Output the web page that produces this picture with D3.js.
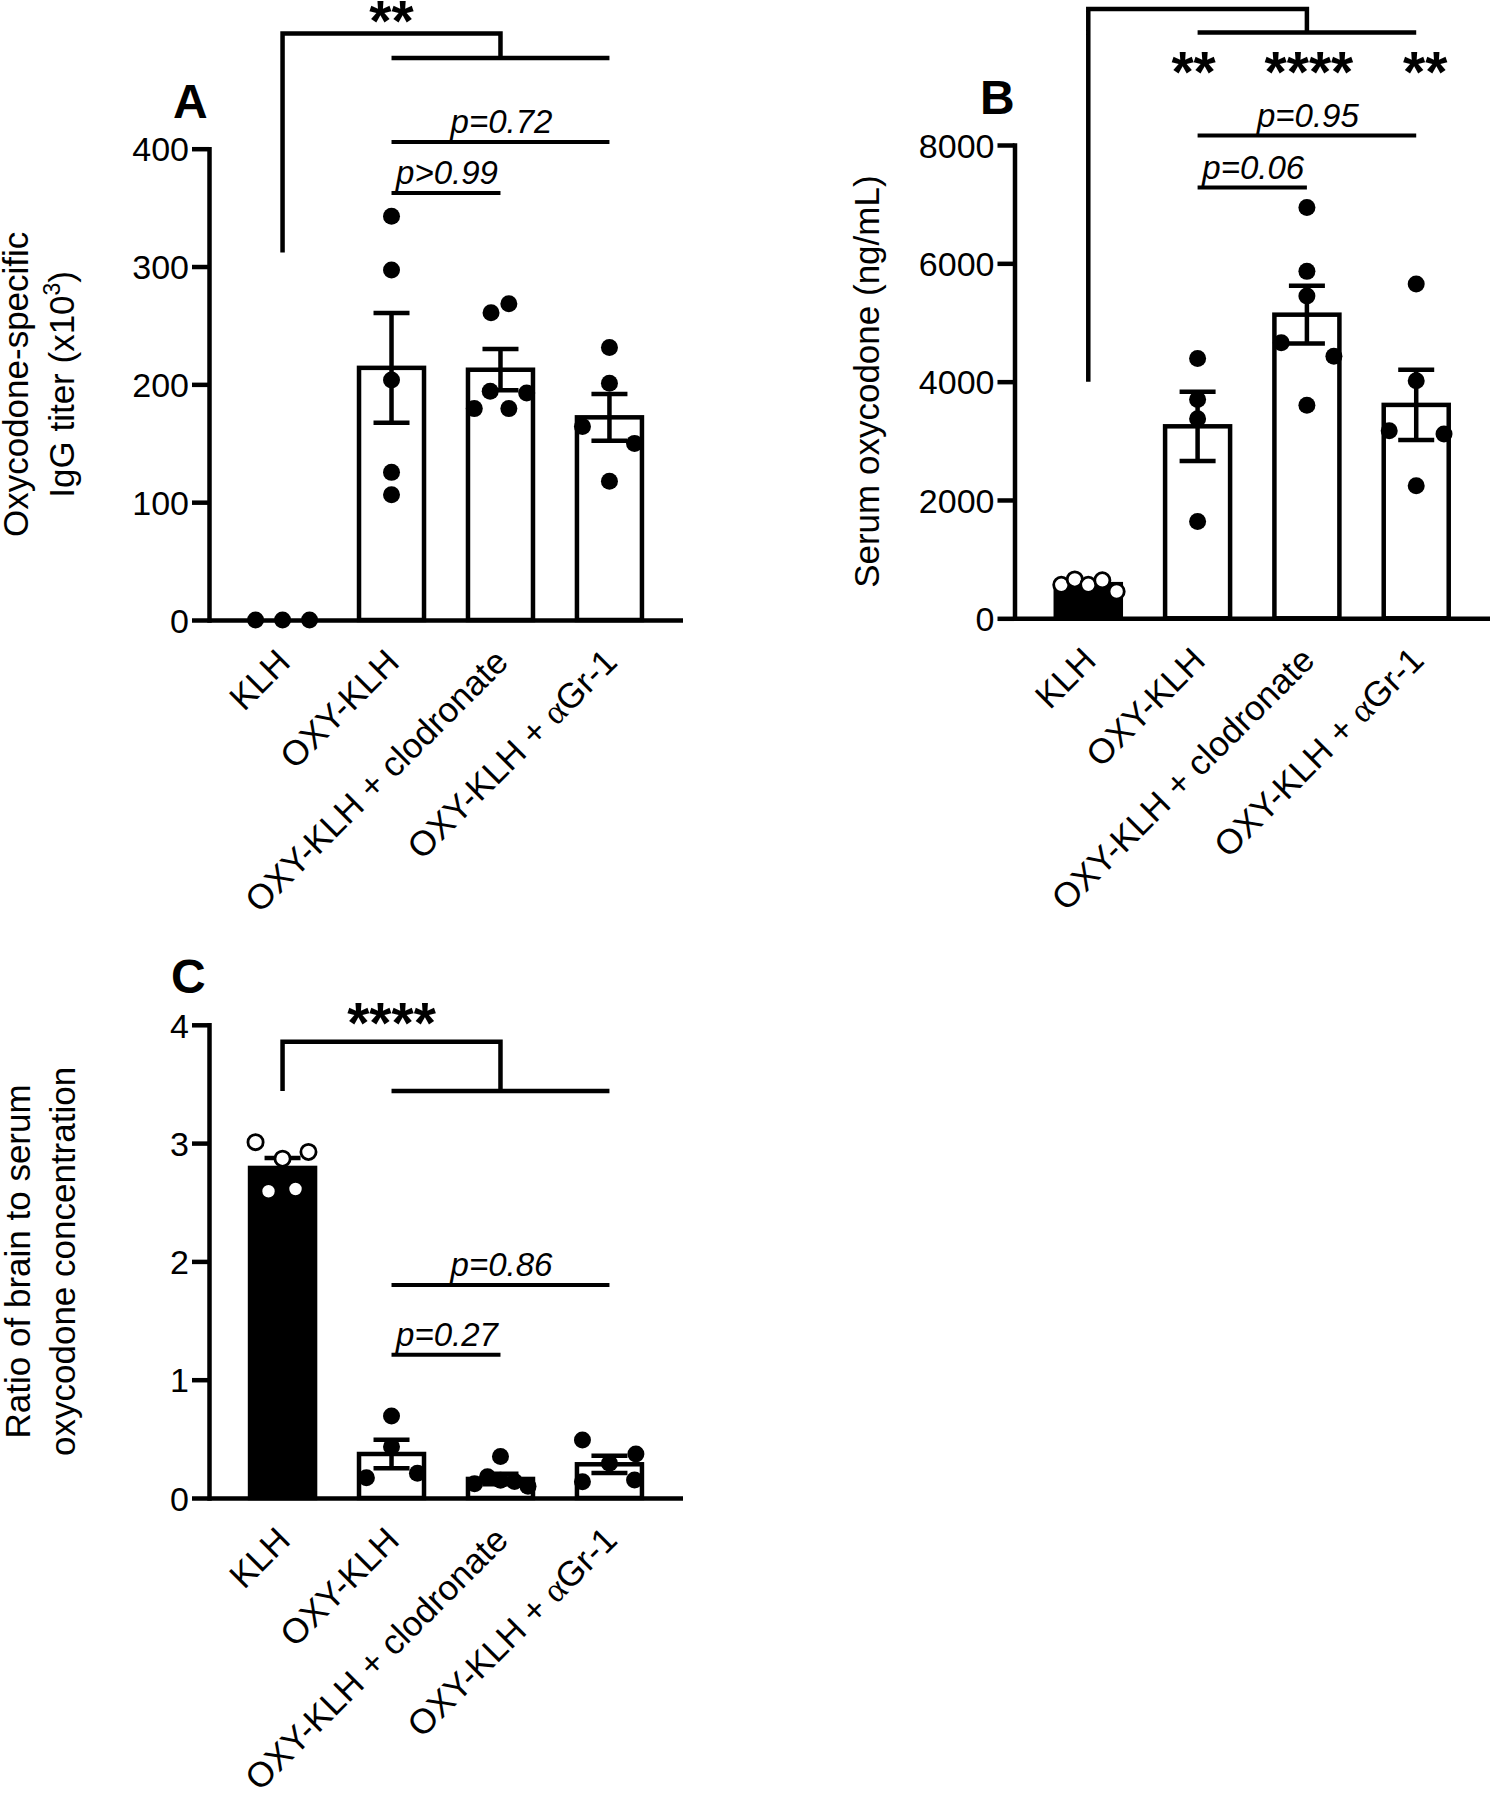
<!DOCTYPE html>
<html><head><meta charset="utf-8">
<script src="https://cdn.jsdelivr.net/npm/d3@7"></script>
<style>
body{margin:0;background:#fff}
svg{display:block;background:#fff}
text{font-family:"Liberation Sans", Arial, Helvetica, sans-serif; fill:#000}
</style>
</head><body>
<svg id="chart" width="1490" height="1800"></svg>
<script>
// ---------------- DATA ----------------
const categories = ["KLH", "OXY-KLH", "OXY-KLH + clodronate", "OXY-KLH + \u03B1Gr-1"];

// Panel A: oxycodone-specific IgG titer (x10^3)
const meansA = [0, 214, 212.4, 172];
const semsA  = [0, 46.5, 17.5, 19.8];
const pointsA = [
  [0, 0, 0],
  [342.6, 297, 203.6, 125.3, 106.3],
  [260.8, 268.4, 194.2, 179.4, 179.4, 192.7],
  [231.3, 201, 164.3, 149.9, 117.7]
];
const jitterA = [
  [-1, 0, 1],
  [0, 0, 0, 0, 0],
  [-0.35, 0.31, -0.38, -0.97, 0.31, 0.97],
  [0, 0, -1, 0.93, 0]
];
const ticksA = [0, 100, 200, 300, 400];

// Panel B: serum oxycodone (ng/mL)
const meansB = [577, 3245, 5132, 3607];
const semsB  = [45, 585, 487, 593];
const pointsB = [
  [566, 657, 566, 642, 453],
  [4392, 3698, 3374, 1638],
  [6942, 5864, 5448, 4657, 4430, 3600],
  [5652, 4015, 3170, 3117, 2241]
];
const jitterB = [
  [-1, -0.5, 0, 0.52, 1.05],
  [0, 0, 0, 0],
  [0, 0, 0, -0.95, 1, 0],
  [0, 0, -1, 1.03, 0]
];
const ticksB = [0, 2000, 4000, 6000, 8000];

// Panel C: ratio of brain to serum oxycodone concentration
const meansC = [2.79, 0.372, 0.161, 0.285];
const semsC  = [0.085, 0.12, 0.045, 0.073];
const pointsC = [
  [3.008, 2.868, 2.925, 2.593, 2.612],
  [0.693, 0.434, 0.172, 0.209],
  [0.35, 0.12, 0.18, 0.15, 0.14, 0.10],
  [0.49, 0.372, 0.293, 0.138, 0.152]
];
const jitterC = [
  [-1, 0, 0.96, -0.52, 0.48],
  [0, 0, -0.93, 0.96],
  [0, -0.96, -0.48, 0, 0.52, 1.02],
  [-1, 0.98, 0, -1, 0.93]
];
const ticksC = [0, 1, 2, 3, 4];

// Annotations (levels in data units)
const bracketA = {legBottom: 312, top: 497.7, low: 476.9};
const compsA = [{a: 1, b: 3, level: 405.7, label: "p=0.72"}, {a: 1, b: 2, level: 362.4, label: "p>0.99"}];
const starsA = [{cat: 1, level: 491.4, label: "**"}];

const bracketB = {legBottom: 4000, top: 10300, low: 9900};
const compsB = [{a: 1, b: 3, level: 8160, label: "p=0.95"}, {a: 1, b: 2, level: 7280, label: "p=0.06"}];
const starsB = [{cat: 1, level: 8900, label: "**"}, {cat: 2, level: 8900, label: "****"}, {cat: 3, level: 8900, label: "**"}];

const bracketC = {legBottom: 3.44, top: 3.856, low: 3.44};
const compsC = [{a: 1, b: 3, level: 1.80, label: "p=0.86"}, {a: 1, b: 2, level: 1.21, label: "p=0.27"}];
const starsC = [{cat: 1, level: 3.845, label: "****"}];

// ---------------- LAYOUT ----------------
const panels = [
  {letter: "A", lx: 173, ly: 118, x0: 209, x1: 683, yTop: 148.7, yBottom: 620, max: 400, ticks: ticksA,
   means: meansA, sems: semsA, points: pointsA, jitter: jitterA, openFirst: false, blackFirst: true,
   bracket: bracketA, comps: compsA, stars: starsA, starDx: [0],
   title: [{t: "Oxycodone-specific", x: 28}, {t: "IgG titer (x10", sup: "3", after: ")", x: 74}]},
  {letter: "B", lx: 980, ly: 114, x0: 1014.5, x1: 1490, yTop: 145, yBottom: 618.3, max: 8000, ticks: ticksB,
   means: meansB, sems: semsB, points: pointsB, jitter: jitterB, openFirst: true, blackFirst: true,
   bracket: bracketB, comps: compsB, stars: starsB, starDx: [-4, 2, 9],
   title: [{t: "Serum oxycodone (ng/mL)", x: 879}]},
  {letter: "C", lx: 171, ly: 993, x0: 209, x1: 683, yTop: 1024.8, yBottom: 1498, max: 4, ticks: ticksC,
   means: meansC, sems: semsC, points: pointsC, jitter: jitterC, openFirst: true, blackFirst: true,
   bracket: bracketC, comps: compsC, stars: starsC, starDx: [0],
   title: [{t: "Ratio of brain to serum", x: 30}, {t: "oxycodone concentration", x: 75}]}
];

const svg = d3.select("#chart");
const LW = 4.5, BW = 65, SP = 27, R = 8.5, CAP = 18;

panels.forEach(p => {
  const g = svg.append("g");
  const x = d3.scalePoint().domain(categories).range([p.x0, p.x1]).padding(0.675);
  const y = d3.scaleLinear().domain([0, p.max]).range([p.yBottom, p.yTop]);

  // bars
  g.selectAll("rect.bar").data(p.means).join("rect").attr("class", "bar")
    .attr("x", (d, i) => x(categories[i]) - BW / 2).attr("width", BW)
    .attr("y", d => y(d)).attr("height", d => y(0) - y(d))
    .attr("fill", (d, i) => (i === 0 && p.blackFirst) ? "#000" : "#fff")
    .attr("stroke", "#000").attr("stroke-width", LW);

  // error bars
  const eb = g.selectAll("g.eb").data(p.means).join("g").attr("class", "eb");
  eb.append("path")
    .attr("d", (d, i) => {
      const cx = x(categories[i]), s = p.sems[i];
      if (!s) return "";
      const yt = y(d + s), yb = y(d - s);
      return `M${cx},${yb}V${yt}M${cx - CAP},${yt}H${cx + CAP}M${cx - CAP},${yb}H${cx + CAP}`;
    })
    .attr("fill", "none").attr("stroke", "#000").attr("stroke-width", LW);

  // points
  p.points.forEach((arr, i) => {
    const open = i === 0 && p.openFirst;
    g.selectAll(null).data(arr).join("circle")
      .attr("cx", (d, j) => x(categories[i]) + p.jitter[i][j] * SP)
      .attr("cy", d => y(d))
      .attr("r", open ? 7.6 : R)
      .attr("fill", open ? "#fff" : "#000")
      .attr("stroke", "#000").attr("stroke-width", open ? 2.8 : 0);
  });

  // y axis
  const ya = g.append("g").attr("transform", `translate(${p.x0},0)`)
    .call(d3.axisLeft(y).tickValues(p.ticks).tickSize(17).tickSizeOuter(0).tickPadding(3).tickFormat(d3.format("d")));
  ya.select(".domain").attr("stroke-width", LW).attr("stroke-linecap", "square");
  ya.selectAll(".tick line").attr("stroke-width", LW);
  ya.selectAll(".tick text").attr("font-size", 34).attr("font-family", '"Liberation Sans", Arial, sans-serif').attr("dy", "0.36em");

  // x axis
  const xa = g.append("g").attr("transform", `translate(0,${y(0)})`)
    .call(d3.axisBottom(x).tickSize(0).tickSizeOuter(0).tickFormat(""));
  xa.select(".domain").attr("d", `M${p.x0},0.5H${p.x1}`).attr("stroke-width", LW);
  xa.selectAll(".tick").each(function(d) {
    const t = d3.select(this).append("text")
      .attr("x", 9).attr("y", 44).attr("text-anchor", "end")
      .attr("transform", "rotate(-45,9,44)")
      .attr("font-size", 35).attr("fill", "#000")
      .attr("font-family", '"Liberation Sans", Arial, sans-serif');
    const parts = d.split("\u03B1");
    if (parts.length > 1) {
      t.append("tspan").text(parts[0]);
      t.append("tspan").text("\u03B1").attr("font-family", '"Liberation Serif", "DejaVu Serif", serif');
      t.append("tspan").text(parts[1]);
    } else t.text(d);
  });

  // bracket
  const b = p.bracket;
  g.append("path")
    .attr("d", `M${x(categories[0])},${y(b.legBottom)}V${y(b.top)}H${x(categories[2])}V${y(b.low)}` +
               `M${x(categories[1])},${y(b.low)}H${x(categories[3])}`)
    .attr("fill", "none").attr("stroke", "#000").attr("stroke-width", LW);

  // comparisons
  p.comps.forEach(c => {
    const xa0 = x(categories[c.a]), xb0 = x(categories[c.b]);
    g.append("line").attr("x1", xa0).attr("x2", xb0).attr("y1", y(c.level)).attr("y2", y(c.level))
      .attr("stroke", "#000").attr("stroke-width", 4);
    g.append("text").attr("x", (xa0 + xb0) / 2 + 1).attr("y", y(c.level) - 9)
      .attr("text-anchor", "middle").attr("font-size", 33).attr("font-style", "italic").text(c.label);
  });

  // stars
  p.stars.forEach((s, k) => {
    g.append("text").attr("x", x(categories[s.cat]) + (p.starDx[k] || 0)).attr("y", y(s.level))
      .attr("text-anchor", "middle").attr("font-size", 57).attr("font-weight", "bold").text(s.label);
  });

  // panel letter
  g.append("text").attr("x", p.lx).attr("y", p.ly).attr("font-size", 48).attr("font-weight", "bold").text(p.letter);

  // y title
  const cy = (p.yTop + p.yBottom) / 2;
  p.title.forEach(l => {
    const t = g.append("text").attr("transform", `translate(${l.x},${cy}) rotate(-90)`)
      .attr("text-anchor", "middle").attr("font-size", 35);
    t.append("tspan").text(l.t);
    if (l.sup) {
      t.append("tspan").text(l.sup).attr("font-size", 23).attr("dy", -14);
      t.append("tspan").text(l.after).attr("dy", 14);
    }
  });
});
</script>
</body></html>
